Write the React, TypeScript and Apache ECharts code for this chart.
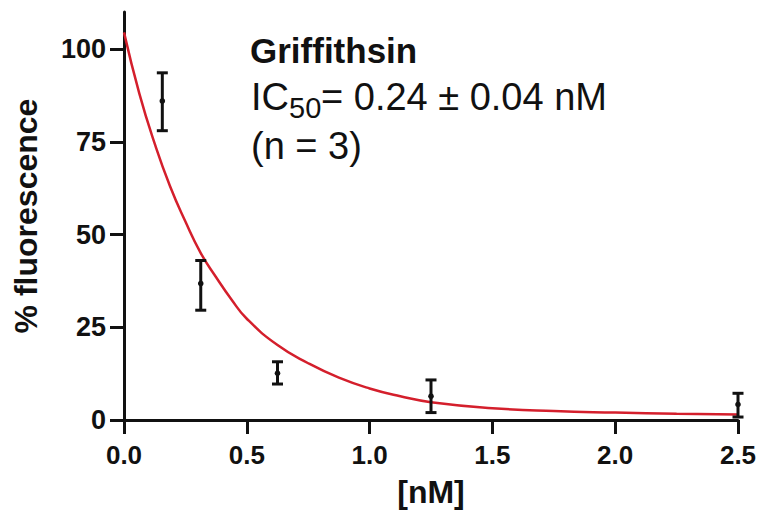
import React, { useEffect, useRef } from "react";
import * as echarts from "echarts";

// Fitted curve
const curveX = [0, 0.0625, 0.125, 0.1875, 0.25, 0.3125, 0.375, 0.4375, 0.5, 0.625, 0.75, 0.875, 1.0, 1.125, 1.25, 1.5, 1.75, 2.0, 2.25, 2.5];
const curveY = [104.5, 88, 74.5, 63, 53.5, 45, 38.5, 32.5, 27.3, 20.2, 15.3, 11.4, 8.5, 6.4, 4.8, 3.2, 2.4, 2.0, 1.7, 1.5];

// Measured points with error bars
const pointX = [0.156, 0.3125, 0.625, 1.25, 2.5];
const pointMean = [86, 36.8, 12.6, 6.4, 4.2];
const pointLow = [78, 29.6, 9.7, 2, 0.8];
const pointHigh = [93.6, 43, 15.7, 10.8, 7.2];

const xTicks = [0, 0.5, 1.0, 1.5, 2.0, 2.5];
const yTicks = [0, 25, 50, 75, 100];

const FONT = '"Liberation Sans", Arial, Helvetica, sans-serif';

export default function App() {
  const ref = useRef<HTMLDivElement>(null);
  useEffect(() => {
    if (!ref.current) return;
    const chart = echarts.init(ref.current, null, { renderer: "svg" });
    const curveData = curveX.map((x, i) => [x, curveY[i]]);
    const errData = pointX.map((x, i) => [x, pointLow[i], pointHigh[i], pointMean[i]]);
    chart.setOption({
      animation: false,
      backgroundColor: "#ffffff",
      grid: { left: 124, right: 22, top: 12, bottom: 99, containLabel: false },
      xAxis: {
        type: "value",
        min: 0,
        max: 2.5,
        interval: 0.5,
        name: "[nM]",
        nameLocation: "middle",
        nameGap: 56,
        nameTextStyle: { fontFamily: FONT, fontWeight: "bold", fontSize: 32, color: "#111" },
        axisLine: { show: true, onZero: false, lineStyle: { color: "#111", width: 3 } },
        axisTick: { show: true, length: 14, lineStyle: { color: "#111", width: 3 }, customValues: xTicks },
        axisLabel: {
          margin: 22,
          fontFamily: FONT,
          fontWeight: "bold",
          fontSize: 26,
          color: "#111",
          customValues: xTicks,
          formatter: (v: number) => v.toFixed(1),
        },
        splitLine: { show: false },
      },
      yAxis: {
        type: "value",
        min: 0,
        max: 110,
        interval: 25,
        name: "% fluorescence",
        nameLocation: "middle",
        nameGap: 82,
        nameTextStyle: { fontFamily: FONT, fontWeight: "bold", fontSize: 32, color: "#111" },
        axisLine: { show: true, onZero: false, lineStyle: { color: "#111", width: 3 } },
        axisTick: { show: true, length: 14, lineStyle: { color: "#111", width: 3 }, customValues: yTicks },
        axisLabel: {
          margin: 18,
          fontFamily: FONT,
          fontWeight: "bold",
          fontSize: 27,
          color: "#111",
          customValues: yTicks,
        },
        splitLine: { show: false },
      },
      series: [
        {
          type: "line",
          data: curveData,
          smooth: true,
          showSymbol: false,
          symbol: "none",
          lineStyle: { color: "#d41f2c", width: 2.5 },
          z: 3,
        },
        {
          type: "custom",
          data: errData,
          z: 4,
          renderItem: (params: any, api: any) => {
            const x = api.value(0);
            const top = api.coord([x, api.value(2)]);
            const bot = api.coord([x, api.value(1)]);
            const mid = api.coord([x, api.value(3)]);
            const cap = 5.5;
            const st = { stroke: "#111", lineWidth: 3 };
            return {
              type: "group",
              children: [
                { type: "line", shape: { x1: top[0], y1: top[1], x2: bot[0], y2: bot[1] }, style: st },
                { type: "line", shape: { x1: top[0] - cap, y1: top[1], x2: top[0] + cap, y2: top[1] }, style: st },
                { type: "line", shape: { x1: bot[0] - cap, y1: bot[1], x2: bot[0] + cap, y2: bot[1] }, style: st },
                { type: "circle", shape: { cx: mid[0], cy: mid[1], r: 2.8 }, style: { fill: "#111" } },
              ],
            };
          },
        },
      ],
      graphic: [
        {
          type: "text",
          left: 250,
          top: 33,
          style: { text: "Griffithsin", font: `bold 35px ${FONT}`, fill: "#111" },
        },
        {
          type: "text",
          left: 251,
          top: 78,
          style: { text: "IC", font: `38px ${FONT}`, fill: "#111" },
        },
        {
          type: "text",
          left: 289,
          top: 93,
          style: { text: "50", font: `29px ${FONT}`, fill: "#111" },
        },
        {
          type: "text",
          left: 321,
          top: 78,
          style: { text: "= 0.24 \u00b1 0.04 nM", font: `38px ${FONT}`, fill: "#111" },
        },
        {
          type: "text",
          left: 251,
          top: 127,
          style: { text: "(n = 3)", font: `38px ${FONT}`, fill: "#111" },
        },
      ],
    });
    return () => chart.dispose();
  }, []);
  return <div ref={ref} style={{ width: 760, height: 519, position: "absolute", left: 0, top: 0 }} />;
}
